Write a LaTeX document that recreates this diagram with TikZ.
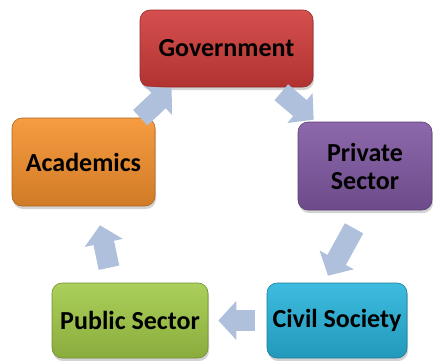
\documentclass[tikz,border=0pt]{standalone}
\usepackage{fontspec}
\setmainfont{Carlito}
\usetikzlibrary{arrows.meta,calc,shadows}

\definecolor{govred}{RGB}{208,60,58}
\definecolor{privpurple}{RGB}{128,88,162}
\definecolor{acadorange}{RGB}{245,145,45}
\definecolor{pubgreen}{RGB}{162,202,72}
\definecolor{civblue}{RGB}{40,180,220}
\definecolor{flowblue}{RGB}{174,192,220}

\begin{document}
\begin{tikzpicture}[x=1pt, y=1pt,
        actor/.style={rectangle, rounded corners=10pt, draw=#1!70!black, line width=0.6pt,
            top color=#1!90!white, bottom color=#1!85!black, align=center,
            font=\bfseries\fontsize{26}{28}\selectfont, text=black,
            drop shadow={shadow xshift=1pt, shadow yshift=-3pt, opacity=0.35}},
        flow/.style={draw=flowblue, line width=21pt, -{Triangle[width=38pt, length=18pt, fill=flowblue]}},]

        \useasboundingbox (0,0) rectangle (433,360);

        % Actors
        \node[actor=govred, minimum width=173pt, minimum height=77pt] (gov) at (226.5,311.5) {Government};
        \node[actor=privpurple, minimum width=134pt, minimum height=88pt] (priv) at (365,194) {Private\\Sector};
        \node[actor=acadorange, minimum width=143pt, minimum height=88pt] (acad) at (83.5,198) {Academics};
        \node[actor=pubgreen, minimum width=156pt, minimum height=75pt] (pub) at (130,39.5) {Public Sector};
        \node[actor=civblue, minimum width=140pt, minimum height=75pt] (civ) at (337,39.5) {Civil Society};

        % Flows
        \draw[flow] ($(acad.north east)+(-15,0)$) -- ($(gov.south west)+(32,-1)$);
        \draw[flow] ($(gov.south east)+(-32,-5)$) -- ($(priv.north west)+(16,2)$);
        \draw[flow] ($(priv.south)+(-11,-18)$) -- ($(civ.north)+(-9,7)$);
        \draw[flow] ($(civ.west)+(-12,0)$) -- ($(pub.east)+(10,0)$);
        \draw[flow] ($(pub.north)+(-21,15)$) -- ($(acad.south)+(16.5,-19)$);
    \end{tikzpicture}
\end{document}
